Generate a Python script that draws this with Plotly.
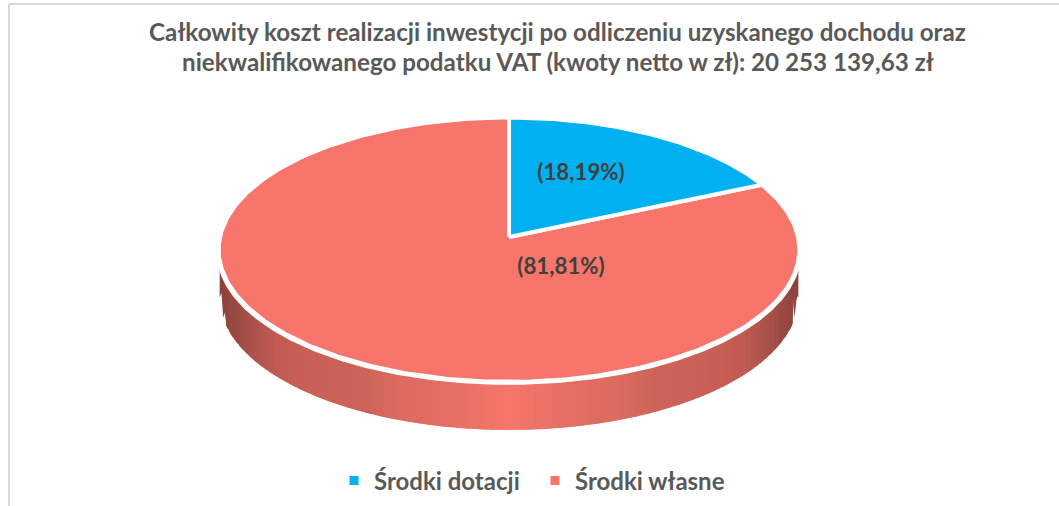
import numpy as np
import plotly.graph_objects as go

categories = ["Środki dotacji", "Środki własne"]
shares = [18.19, 81.81]
labels = ["(18,19%)", "(81,81%)"]
colors = ["#00B0F0", "#F8756B"]
title_line_1 = "Całkowity koszt realizacji inwestycji po odliczeniu uzyskanego dochodu oraz"
title_line_2 = "niekwalifikowanego podatku VAT (kwoty netto w zł): 20 253 139,63 zł"
label_x = [581, 561]
label_y = [174, 268]

W, H = 1059, 506
CX, CY, A, B, K, DEPTH = 509, 237, 289, 131.0, 0.0958, 48


def project(theta, a=A):
    X, Y = np.sin(theta), np.cos(theta)
    w = 1 + K * Y
    return CX + a * X / w, CY - B * Y / w


def side_color(t):
    half = [(0, (0x8B, 0x41, 0x39)), (0.05, (0xA8, 0x52, 0x4A)), (0.095, (0xC2, 0x5B, 0x53)),
            (0.14, (0xC9, 0x5F, 0x56)), (0.25, (0xCE, 0x64, 0x59)), (0.31, (0xDC, 0x6B, 0x60)),
            (0.40, (0xE5, 0x6F, 0x64)), (0.5, (0xF7, 0x77, 0x6B))]
    t = min(t, 1 - t)
    for (a, ca), (b, cb) in zip(half, half[1:]):
        if t <= b:
            f = (t - a) / (b - a)
            return "rgb(%d,%d,%d)" % tuple(ca[i] + (cb[i] - ca[i]) * f for i in range(3))
    return "rgb(247,119,107)"


fig = go.Figure()

# side wall: vertical gradient strips below the front rim, later strips overlap earlier ones
th = np.linspace(np.pi / 2 - 0.1, 3 * np.pi / 2 + 0.1, 1441)
px, py = project(th, A - 1)
order = np.argsort(px)
px_s, py_s = px[order], py[order]
edges = np.linspace(px_s[0], px_s[-1], 121)
for x0, x1 in zip(edges[:-1], edges[1:]):
    x_end = min(x1 + 4, edges[-1])
    xs = np.linspace(x0, x_end, 6)
    ys = np.interp(xs, px_s, py_s) + DEPTH
    t = ((x0 + x1) / 2 - edges[0]) / (edges[-1] - edges[0])
    fig.add_trace(go.Scatter(
        x=[xs[0], *xs, xs[-1]], y=[CY, *ys, CY], mode="lines", fill="toself",
        fillcolor=side_color(t), line=dict(width=0), showlegend=False, hoverinfo="skip"))

# white rim gap between the top face and the wall
t_all = np.linspace(0, 2 * np.pi, 720)
rx, ry = project(t_all, A + 2)
fig.add_trace(go.Scatter(
    x=rx, y=ry + 3, mode="lines", fill="toself", fillcolor="white",
    line=dict(width=0), showlegend=False, hoverinfo="skip"))

# top slices, sweep from the shares, drawn from 12 o'clock clockwise
cum = np.cumsum([0] + shares) / sum(shares) * 2 * np.pi
for i in (1, 0):
    t = np.linspace(cum[i], cum[i + 1], 400)
    x, y = project(t)
    fig.add_trace(go.Scatter(
        x=[CX, *x, CX], y=[CY, *y, CY], mode="lines", fill="toself",
        fillcolor=colors[i], line=dict(color="white", width=4),
        showlegend=False, hoverinfo="skip"))

fig.add_trace(go.Scatter(
    x=label_x, y=label_y, mode="text", text=labels, showlegend=False, hoverinfo="skip",
    textposition="middle center",
    textfont=dict(family="Lato", size=22.3, color="#404040", weight="bold")))

for name, col in zip(categories, colors):
    fig.add_trace(go.Scatter(
        x=[None], y=[None], mode="markers", name=name,
        marker=dict(symbol="square", size=9, color=col)))

TITLE_FONT = dict(family="Lato", size=24.2, color="#595959", weight="bold")
fig.update_layout(
    width=W, height=H, autosize=False,
    margin=dict(l=0, r=0, t=0, b=0),
    paper_bgcolor="white", plot_bgcolor="white",
    xaxis=dict(range=[0, W], visible=False, fixedrange=True),
    yaxis=dict(range=[H, 0], visible=False, fixedrange=True),
    title=dict(text=title_line_1, x=557.5 / W, xanchor="center", y=1 - 33 / H, yanchor="middle",
               font=TITLE_FONT),
    annotations=[dict(text=title_line_2, xref="paper", yref="paper", x=558 / W, y=1 - 62 / H,
                      xanchor="center", yanchor="middle", showarrow=False, font=TITLE_FONT)],
    legend=dict(orientation="h", x=334 / W, xanchor="left", y=1 - 481 / H, yanchor="middle",
                bgcolor="rgba(0,0,0,0)", itemwidth=30, entrywidth=156, entrywidthmode="pixels",
                font=dict(family="Lato", size=24, color="#595959", weight="bold")),
    shapes=[
        dict(type="line", xref="paper", yref="paper", x0=9 / W, x1=9 / W, y0=0, y1=1 - 4 / H,
             line=dict(color="#D9D9D9", width=2)),
        dict(type="line", xref="paper", yref="paper", x0=9 / W, x1=1, y0=1 - 4 / H, y1=1 - 4 / H,
             line=dict(color="#D9D9D9", width=2)),
    ],
)
fig.write_html("out.html", config=dict(displayModeBar=False),
               post_script="document.body.style.margin='0';")
